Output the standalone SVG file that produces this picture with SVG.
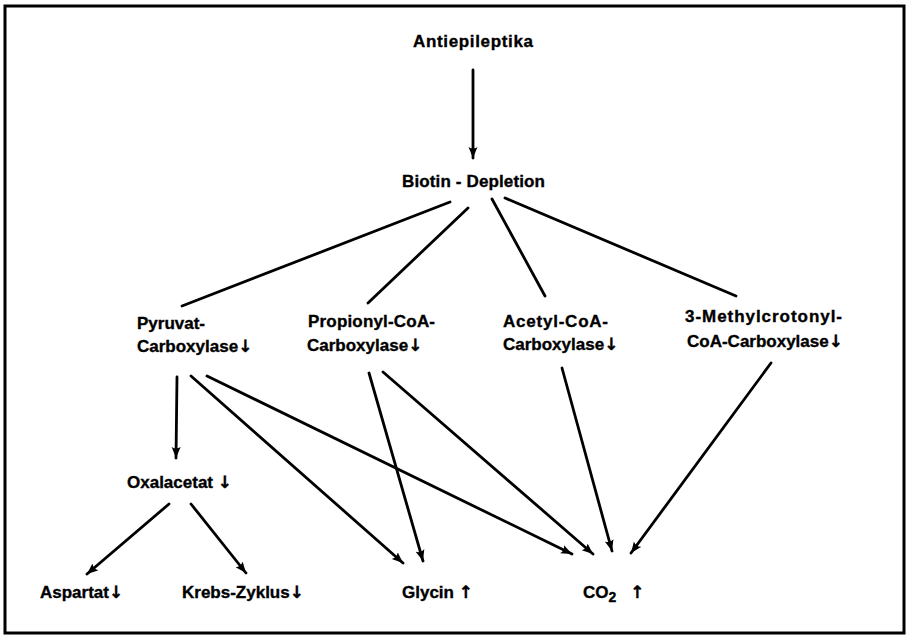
<svg xmlns="http://www.w3.org/2000/svg" width="908" height="639" viewBox="0 0 908 639">
<defs>
<style>
text{font-family:"Liberation Sans",Arial,sans-serif;font-weight:bold;font-size:17px;fill:#000;stroke:#000;stroke-width:0.35}
.ar{font-family:"DejaVu Sans",sans-serif;font-size:17px;font-weight:bold}
.c line{stroke:#000;stroke-width:2.8;stroke-linecap:round}
.a{marker-end:url(#ah)}
</style>
<marker id="ah" markerUnits="userSpaceOnUse" viewBox="0 0 12 10" refX="11" refY="5" markerWidth="12" markerHeight="10" orient="auto">
<path d="M0,0.5 Q3,5 0,9.5 L11,5 Z" fill="#000"/>
</marker>
</defs>
<rect x="5" y="6" width="899" height="627" fill="#fff" stroke="#000" stroke-width="3"/>
<g class="c" id="connectors">
<line class="a" x1="473" y1="70" x2="473" y2="158"/>
<line x1="450" y1="202" x2="182" y2="306"/>
<line x1="468" y1="208" x2="368" y2="303"/>
<line x1="492" y1="199" x2="545" y2="296"/>
<line x1="505" y1="198" x2="736" y2="296"/>
<line class="a" x1="177" y1="377" x2="176" y2="458"/>
<line class="a" x1="191" y1="376" x2="403" y2="563"/>
<line class="a" x1="207" y1="376" x2="572" y2="554"/>
<line class="a" x1="369" y1="373" x2="423" y2="561"/>
<line class="a" x1="383" y1="372" x2="593" y2="554"/>
<line class="a" x1="562" y1="368" x2="612" y2="551"/>
<line class="a" x1="771" y1="363" x2="631" y2="553"/>
<line class="a" x1="169" y1="504" x2="87" y2="574"/>
<line class="a" x1="191" y1="504" x2="246" y2="573"/>
</g>
<g id="antiepileptika"><text x="413" y="47" textLength="120">Antiepileptika</text></g>
<g id="biotin"><text x="402" y="187" textLength="143">Biotin - Depletion</text></g>
<g id="pyruvat"><text x="137" y="329">Pyruvat-</text><text x="137" y="352">Carboxylase<tspan class="ar">↓</tspan></text></g>
<g id="propionyl"><text x="308" y="327" textLength="127">Propionyl-CoA-</text><text x="307" y="351">Carboxylase<tspan class="ar">↓</tspan></text></g>
<g id="acetyl"><text x="503" y="327" textLength="105">Acetyl-CoA-</text><text x="503" y="350">Carboxylase<tspan class="ar">↓</tspan></text></g>
<g id="methyl"><text x="685" y="322" textLength="157">3-Methylcrotonyl-</text><text x="687" y="347">CoA-Carboxylase<tspan class="ar">↓</tspan></text></g>
<g id="oxalacetat"><text x="127" y="488">Oxalacetat <tspan class="ar">↓</tspan></text></g>
<g id="aspartat"><text x="40" y="598">Aspartat<tspan class="ar">↓</tspan></text></g>
<g id="krebs"><text x="182" y="598">Krebs-Zyklus<tspan class="ar">↓</tspan></text></g>
<g id="glycin"><text x="402" y="598">Glycin <tspan class="ar">↑</tspan></text></g>
<g id="co2"><text x="583" y="598">CO<tspan font-size="14" dy="4">2</tspan><tspan class="ar" dy="-4" dx="14">↑</tspan></text></g>
</svg>
